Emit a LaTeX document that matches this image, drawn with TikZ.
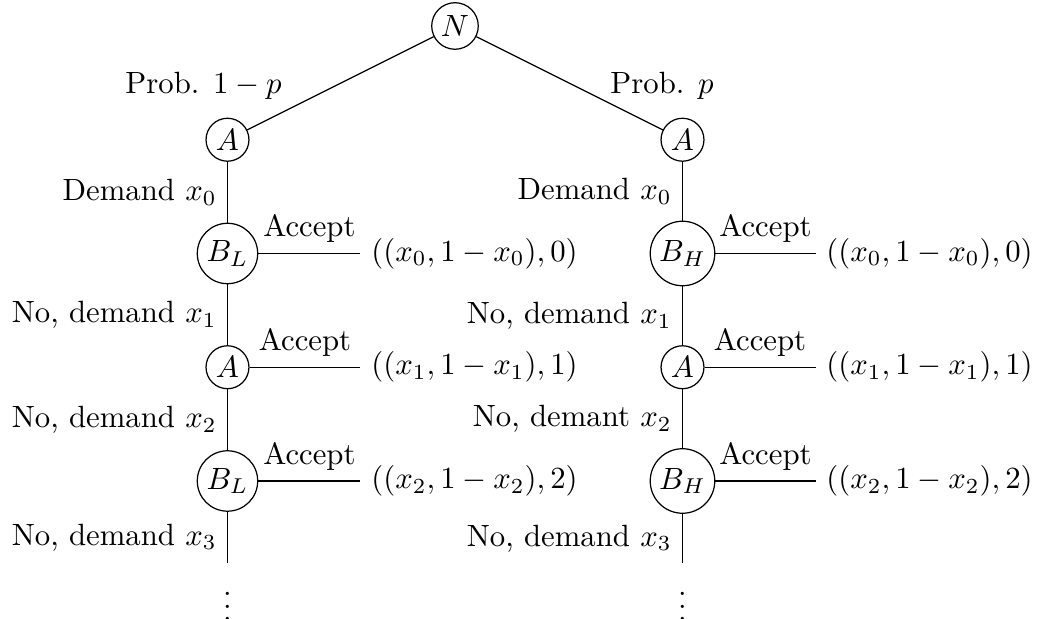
\documentclass[tikz,border=0pt]{standalone}
\usepackage{amsmath}
\usetikzlibrary{calc, positioning}

\tikzset{
  dec/.style={circle, draw, inner sep=1.35pt},
  lab/.style={anchor=base},
  more/.style={below=3.3pt, inner sep=0pt},
}

\begin{document}
\begin{tikzpicture}
\def\xoff{2.6}
\def\ystep{1.3}
\def\acc{1.52}
\useasboundingbox (-5.2,0.297) rectangle (6.697,-6.766);

% nature
\node[dec] (N) at (0,0) {$N$};

% low type branch
\node[dec] (AL0) at (-\xoff,-\ystep) {$A$};
\node[dec] (BL0) at (-\xoff,-2*\ystep) {$B_L$};
\node[dec] (AL1) at (-\xoff,-3*\ystep) {$A$};
\node[dec] (BL1) at (-\xoff,-4*\ystep) {$B_L$};
\coordinate (endL) at (-\xoff,-4*\ystep-0.94);

% high type branch
\node[dec] (AH0) at (\xoff,-\ystep) {$A$};
\node[dec] (BH0) at (\xoff,-2*\ystep) {$B_H$};
\node[dec] (AH1) at (\xoff,-3*\ystep) {$A$};
\node[dec] (BH1) at (\xoff,-4*\ystep) {$B_H$};
\coordinate (endH) at (\xoff,-4*\ystep-0.94);

\node[lab] (probL) at (-2.874,-0.766) {Prob. $1-p$};
\node[lab] (probH) at (2.366,-0.766) {Prob. $p$};
\draw (N) -- (AL0);
\draw (N) -- (AH0);

\draw (AL0) -- node[left] {Demand $x_0$} (BL0);
\draw (BL0) -- node[left] {No, demand $x_1$} (AL1);
\draw (AL1) -- node[left] {No, demand $x_2$} (BL1);
\draw (BL1) -- node[left] {No, demand $x_3$} (endL);
\node[more] (dotsL) at (endL) {$\vdots$};

\draw (AH0) -- node[left] {Demand $x_0$} (BH0);
\draw (BH0) -- node[left] {No, demand $x_1$} (AH1);
\draw (AH1) -- node[left] {No, demant $x_2$} (BH1);
\draw (BH1) -- node[left] {No, demand $x_3$} (endH);
\node[more] (dotsH) at (endH) {$\vdots$};

% accept branches
\coordinate (aL0) at ($(BL0)+(\acc,0)$);
\coordinate (aL1) at ($(AL1)+(\acc,0)$);
\coordinate (aL2) at ($(BL1)+(\acc,0)$);
\coordinate (aH0) at ($(BH0)+(\acc,0)$);
\coordinate (aH1) at ($(AH1)+(\acc,0)$);
\coordinate (aH2) at ($(BH1)+(\acc,0)$);

\draw (BL0) -- node[above] {Accept} (aL0) node[right] (payL0) {$((x_0,1-x_0),0)$};
\draw (AL1) -- node[above] {Accept} (aL1) node[right] (payL1) {$((x_1,1-x_1),1)$};
\draw (BL1) -- node[above] {Accept} (aL2) node[right] (payL2) {$((x_2,1-x_2),2)$};
\draw (BH0) -- node[above] {Accept} (aH0) node[right] (payH0) {$((x_0,1-x_0),0)$};
\draw (AH1) -- node[above] {Accept} (aH1) node[right] (payH1) {$((x_1,1-x_1),1)$};
\draw (BH1) -- node[above] {Accept} (aH2) node[right] (payH2) {$((x_2,1-x_2),2)$};
\end{tikzpicture}
\end{document}
